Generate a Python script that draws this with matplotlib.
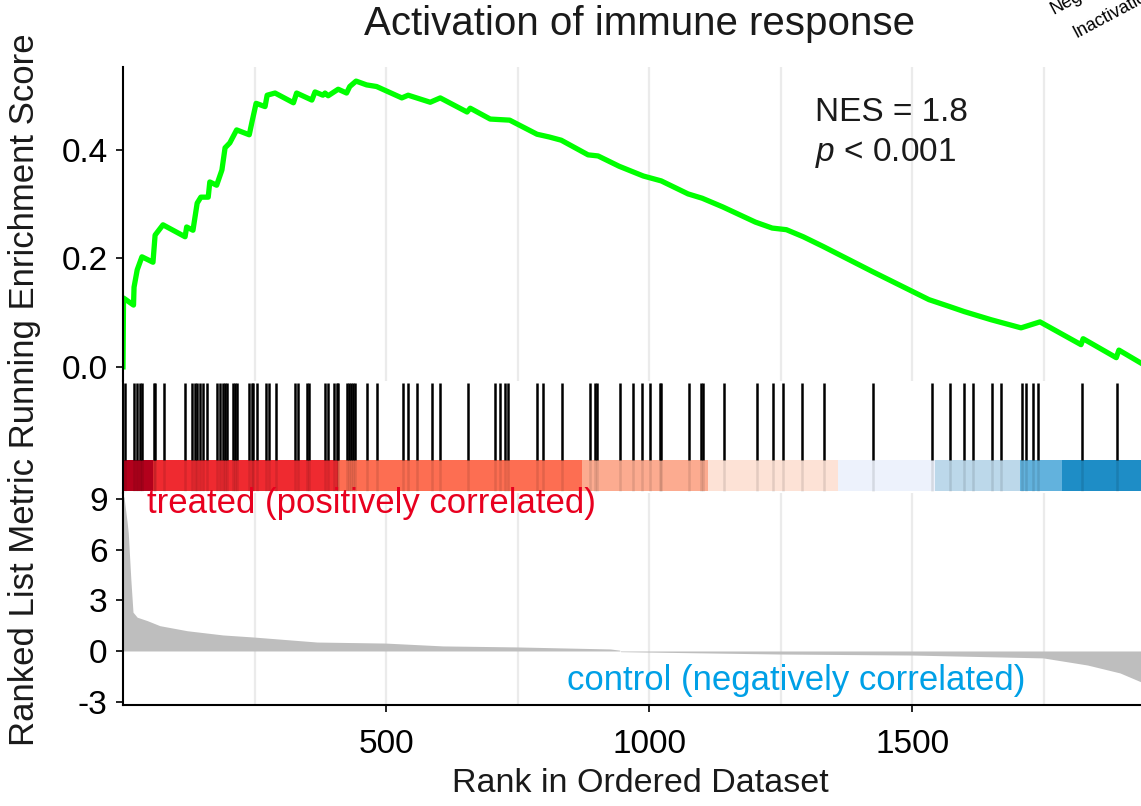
import matplotlib
matplotlib.use("Agg")
import matplotlib.pyplot as plt

plt.rcParams['font.family'] = ['Liberation Sans', 'DejaVu Sans']
plt.rcParams['mathtext.fontset'] = 'custom'
plt.rcParams['mathtext.it'] = 'Liberation Sans:italic'
plt.rcParams['mathtext.rm'] = 'Liberation Sans'
plt.rcParams['axes.unicode_minus'] = False

# running enrichment score
es_rank = [0, 1, 20, 21, 27, 36, 57, 61, 76, 118,
           121, 133, 141, 148, 162, 165, 178, 188, 194, 203,
           216, 240, 245, 253, 270, 274, 289, 324, 330, 359,
           365, 380, 384, 390, 409, 425, 431, 443, 463, 482, 530, 542,
           584, 603, 654, 660, 698, 735, 787, 810, 833, 884,
           903, 943, 989, 1023, 1074, 1101, 1140, 1202, 1234, 1261,
           1293, 1331, 1424, 1532, 1572, 1599, 1650, 1707, 1743, 1821,
           1825, 1888, 1893, 1935]
es_val = [0, .127, .114, .147, .179, .203, .193, .243, .262, .240,
          .258, .252, .302, .313, .313, .341, .335, .363, .404, .413,
          .437, .428, .451, .486, .480, .501, .505, .487, .505, .492,
          .507, .501, .505, .500, .512, .505, .517, .527, .520, .517, .496, .501,
          .488, .496, .470, .477, .457, .455, .429, .424, .418, .391,
          .389, .370, .352, .343, .319, .311, .295, .267, .256, .253,
          .240, .222, .176, .124, .111, .102, .087, .072, .083, .041,
          .052, .017, .031, .007]

# gene set hits
hits = [4, 20, 27, 32, 37, 58, 61, 78, 118, 132, 137, 141, 146, 153, 159,
        179, 184, 190, 194, 198, 209, 213, 216, 240, 245, 248, 254, 272, 278,
        291, 327, 333, 349, 354, 384, 390, 401, 406, 409, 426, 430, 433, 438,
        441, 463, 482, 533, 542, 558, 587, 603, 655, 707, 717, 726, 731, 786,
        799, 834, 888, 897, 901, 945, 969, 986, 1001, 1020, 1022, 1076, 1099,
        1102, 1143, 1206, 1235, 1255, 1291, 1333, 1425, 1537, 1571, 1599,
        1615, 1651, 1669, 1709, 1717, 1729, 1739, 1823, 1889]

# colour band segments
band_edges = [0, 57, 409, 872, 1112, 1359, 1544, 1705, 1785, 1935]
band_colors = ['#b3001c', '#ef2a30', '#fd6e52', '#fcab90', '#fde2d6',
               '#edf2fc', '#bcd8ea', '#62b2dd', '#1e8dc6']

# ranked list metric
metric_rank = [0, 2, 8, 10, 15, 19, 27, 46, 70, 122, 190, 247, 369, 498,
               608, 749, 926, 944, 946, 1249, 1500, 1749, 1833, 1895, 1935]
metric_val = [9.2, 9.1, 7.6, 7.0, 4.2, 2.3, 2.0, 1.8, 1.5, 1.2, 0.95, 0.83,
              0.53, 0.47, 0.30, 0.24, 0.12, 0.05, -0.04, -0.18, -0.24, -0.41,
              -0.83, -1.3, -1.83]

W, H = 1141, 806
xmax = 1935
fig = plt.figure(figsize=(W / 100, H / 100), dpi=100)
left = 123 / W
ax1 = fig.add_axes([left, 1 - 381 / H, 1 - left, (381 - 67) / H])
ax2 = fig.add_axes([left, 1 - 493 / H, 1 - left, (493 - 381) / H])
ax3 = fig.add_axes([left, 1 - 705 / H, 1 - left, (705 - 493) / H])

grid_kw = dict(color='#ebebeb', lw=1.6, zorder=0)
for ax in (ax1, ax3):
    for g in range(250, xmax, 250):
        ax.axvline(g, **grid_kw)

# top panel
ax1.plot(es_rank, es_val, color='#00ff00', lw=3.8, solid_joinstyle='round')
ax1.set_xlim(0, xmax)
ax1.set_ylim(-0.026, 0.553)
ax1.set_yticks([0.0, 0.2, 0.4])
ax1.set_yticklabels(['0.0', '0.2', '0.4'])
ax1.set_xticks([])
for s in ['top', 'right', 'bottom']:
    ax1.spines[s].set_visible(False)
ax1.spines['left'].set_linewidth(1.5)
ax1.tick_params(axis='y', labelsize=24, length=5, width=1.2, pad=6)
ax1.text(1316, 0.470, 'NES = 1.8', fontsize=24, va='center', ha='left', color='#1a1a1a')
ax1.text(1316, 0.394, '$p$ < 0.001', fontsize=24, va='center', ha='left', color='#1a1a1a')

# middle panel: hits + colour band
ax2.set_xlim(0, xmax)
ax2.set_ylim(0, 1)
ax2.vlines(hits, 0.295, 0.98, color='black', lw=1.8)
for i in range(len(band_colors)):
    ax2.bar(band_edges[i], 0.277, width=band_edges[i + 1] - band_edges[i],
            bottom=0.018, align='edge', color=band_colors[i], lw=0)
ax2.vlines(hits, 0.018, 0.295, color='black', lw=1.8, alpha=0.1)
ax2.set_xticks([])
ax2.set_yticks([])
for s in ['top', 'right', 'bottom']:
    ax2.spines[s].set_visible(False)
ax2.spines['left'].set_linewidth(1.5)

# bottom panel: ranked metric
ax3.fill_between(metric_rank, 0, metric_val, color='#bebebe', lw=0)
ax3.set_xlim(0, xmax)
ax3.set_ylim(-3.2, 9.36)
ax3.set_yticks([-3, 0, 3, 6, 9])
ax3.set_xticks([500, 1000, 1500])
for s in ['top', 'right']:
    ax3.spines[s].set_visible(False)
ax3.spines['left'].set_linewidth(1.5)
ax3.spines['bottom'].set_linewidth(1.5)
ax3.tick_params(axis='both', labelsize=24, length=5, width=1.2)
ax3.tick_params(axis='y', pad=6)
ax3.tick_params(axis='x', pad=12)
ax3.text(46, 8.76, 'treated (positively correlated)', color='#e8001f',
         fontsize=25, va='center', ha='left')
ax3.text(1715, -1.72, 'control (negatively correlated)', color='#00a0e6',
         fontsize=25, va='center', ha='right')

fig.text(639 / W, 1 - 24 / H, 'Activation of immune response', fontsize=29,
         ha='center', va='center', color='#1a1a1a')
fig.text(640 / W, 1 - 784 / H, 'Rank in Ordered Dataset', fontsize=24.5,
         ha='center', va='center', color='#1a1a1a')
fig.text(25 / W, 1 - 390 / H, 'Ranked List Metric Running Enrichment Score',
         fontsize=25, rotation=90, ha='center', va='center', color='#1a1a1a')

# fragments of neighbouring panel labels (cut by the image edge, as in the source)
fig.text(1054 / W, 1 - 14 / H, 'Negative', fontsize=13, rotation=28,
         rotation_mode='anchor', ha='left', va='baseline')
fig.text(1076 / W, 1 - 38 / H, 'Inactivation', fontsize=13, rotation=28,
         rotation_mode='anchor', ha='left', va='baseline')

fig.savefig('out.png', dpi=100)
